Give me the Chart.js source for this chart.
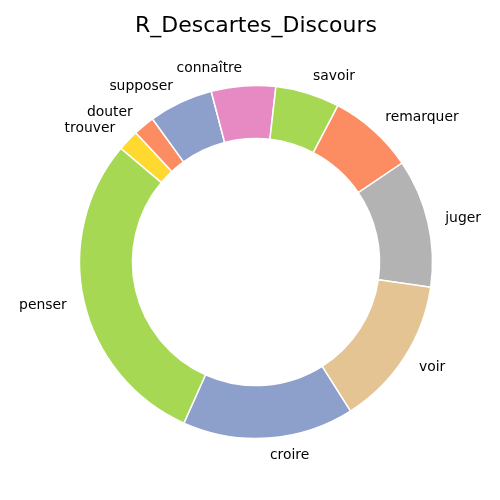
<!DOCTYPE html>
<html>
<head>
<meta charset="utf-8">
<script src="https://cdn.jsdelivr.net/npm/chart.js@4/dist/chart.umd.min.js"></script>
<style>
  html, body { margin: 0; padding: 0; background: #ffffff; }
  #wrap { width: 500px; height: 500px; }
</style>
</head>
<body>
<div id="wrap"><canvas id="c" width="500" height="500"></canvas></div>
<script>
// Data (clockwise order, starting from upper-left)
const titleText = "R_Descartes_Discours";
const categories = ["trouver", "douter", "supposer", "connaître", "savoir", "remarquer", "juger", "voir", "croire", "penser"];
const counts = [1, 1, 3, 3, 3, 4, 6, 7, 8, 15];
const sliceColors = ["#ffd92f", "#fc8d62", "#8da0cb", "#e78ac3", "#a6d854", "#fc8d62", "#b3b3b3", "#e5c494", "#8da0cb", "#a6d854"];

const FONT = "'DejaVu Sans', 'Liberation Sans', sans-serif";

const labelPlugin = {
  id: 'outerLabels',
  afterDraw(chart) {
    const ctx = chart.ctx;
    const meta = chart.getDatasetMeta(0);
    ctx.save();
    ctx.fillStyle = '#000000';
    ctx.font = '13.9px ' + FONT;
    ctx.textBaseline = 'middle';
    meta.data.forEach((arc, i) => {
      const p = arc.getProps(['x', 'y', 'startAngle', 'endAngle', 'outerRadius'], true);
      const mid = (p.startAngle + p.endAngle) / 2;
      const r = p.outerRadius * 1.1;
      const x = p.x + r * Math.cos(mid);
      const y = p.y + r * Math.sin(mid);
      ctx.textAlign = Math.cos(mid) > 0 ? 'left' : 'right';
      ctx.fillText(chart.data.labels[i], x, y);
    });
    // title
    ctx.font = '22px ' + FONT;
    ctx.textAlign = 'center';
    ctx.textBaseline = 'alphabetic';
    ctx.fillText(titleText, 256, 32);
    ctx.restore();
  }
};

new Chart(document.getElementById('c'), {
  type: 'doughnut',
  data: {
    labels: categories,
    datasets: [{
      data: counts,
      backgroundColor: sliceColors,
      borderColor: '#ffffff',
      borderWidth: 1.5,
      borderAlign: 'center'
    }]
  },
  options: {
    responsive: false,
    animation: false,
    rotation: -50,
    cutout: '70%',
    radius: 176.5,
    layout: { padding: { left: 79, right: 67, top: 85, bottom: 61 } },
    plugins: {
      legend: { display: false },
      title: { display: false },
      tooltip: { enabled: false }
    }
  },
  plugins: [labelPlugin]
});
</script>
</body>
</html>
